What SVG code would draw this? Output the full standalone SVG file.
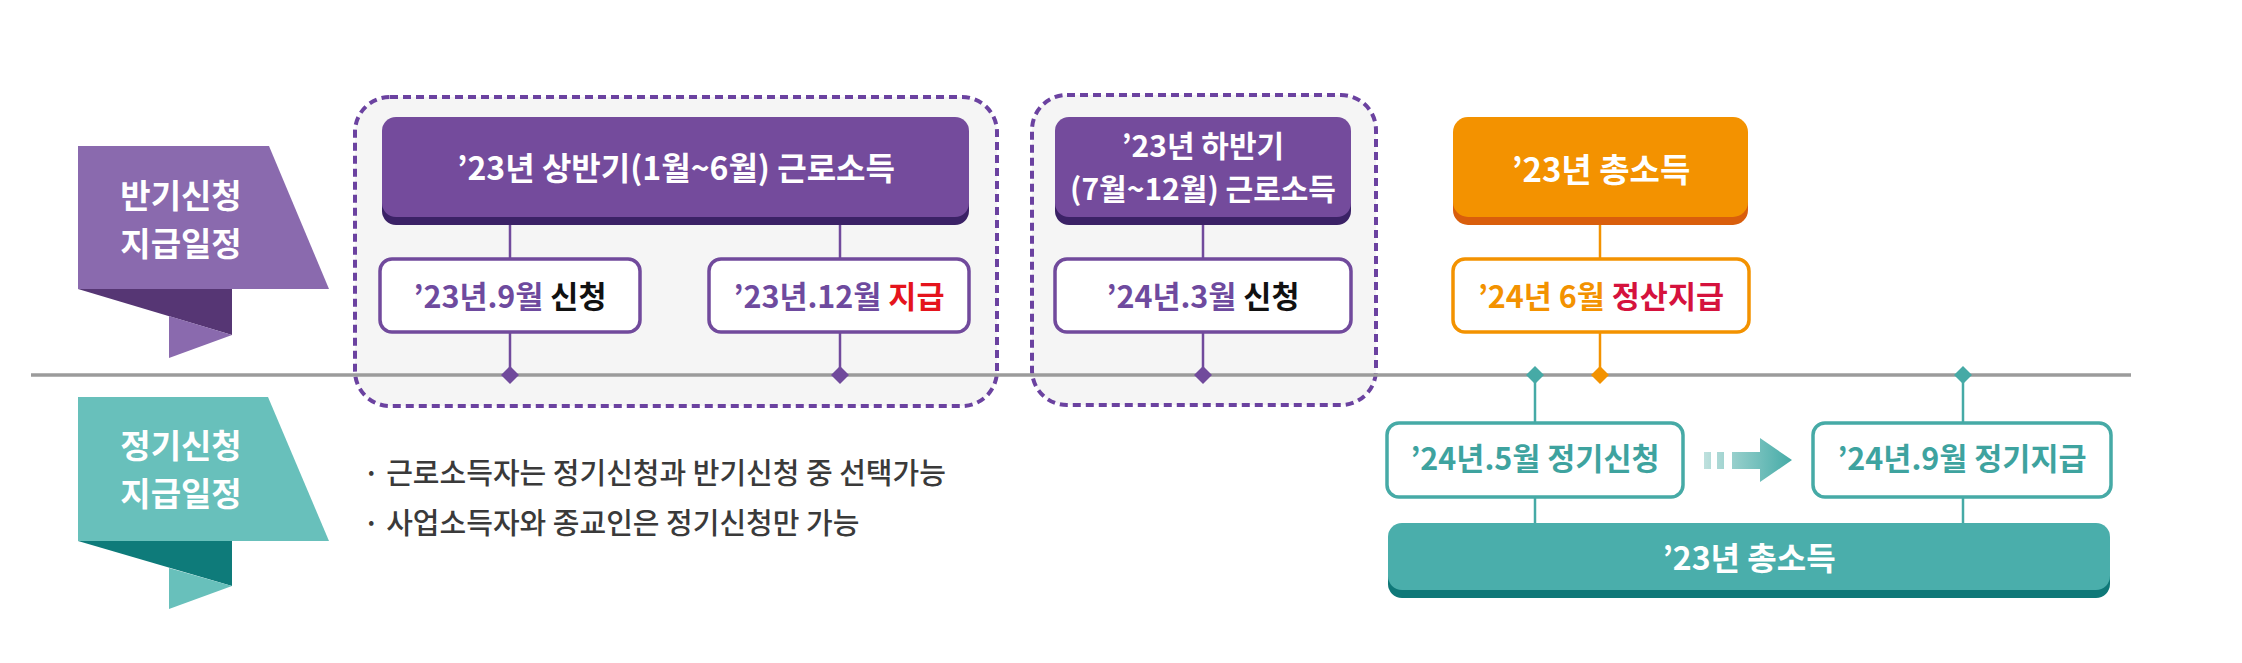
<svg xmlns="http://www.w3.org/2000/svg" width="2242" height="663" viewBox="0 0 2242 663">
<defs>
<linearGradient id="arrowGrad" x1="1700" y1="0" x2="1792" y2="0" gradientUnits="userSpaceOnUse">
<stop offset="0" stop-color="#c4e3e0"/>
<stop offset="1" stop-color="#45aba7"/>
</linearGradient>
<style>
text{font-family:"Noto Sans CJK KR","Noto Sans",sans-serif;}
.group{fill:#f5f5f5;stroke:#6b42a0;stroke-width:4;stroke-dasharray:8 5;}
.pHead{fill:#744b9c;}
.pShadow{fill:#3b2266;}
.oHead{fill:#f39200;}
.oShadow{fill:#d95e0c;}
.tHead{fill:#4aaeab;}
.tShadow{fill:#0f7878;}
.pBox{fill:#ffffff;stroke:#714a9c;stroke-width:3.5;}
.oBox{fill:#ffffff;stroke:#f39200;stroke-width:3.5;}
.tBox{fill:#ffffff;stroke:#46aaa6;stroke-width:3.5;}
.hText{fill:#ffffff;font-size:32px;font-weight:700;text-anchor:middle;}
.bText{font-size:30.5px;font-weight:700;text-anchor:middle;}
.rText{fill:#ffffff;font-size:33px;font-weight:700;text-anchor:middle;}
.note{fill:#3a3a3a;font-size:29px;font-weight:500;}
.pLine{stroke:#714a9c;stroke-width:2.5;fill:none;}
.oLine{stroke:#f39200;stroke-width:2.5;fill:none;}
.tLine{stroke:#46aaa6;stroke-width:2.5;fill:none;}
</style>
</defs>
<rect width="2242" height="663" fill="#ffffff"/>

<g id="ribbon-half">
<polygon points="78,146 269,146 329,289 78,289" fill="#8a6aae"/>
<polygon points="78,289 232,289 232,335" fill="#563674"/>
<polygon points="169,316 232,335 169,358" fill="#8a6aae"/>
<text class="rText" x="181" y="208">반기신청</text>
<text class="rText" x="181" y="256">지급일정</text>
</g>
<g id="ribbon-regular">
<polygon points="78,397 268,397 329,541 78,541" fill="#68c0bb"/>
<polygon points="78,541 232,541 232,586" fill="#0e7b7a"/>
<polygon points="169,568 232,586 169,609" fill="#68c0bb"/>
<text class="rText" x="181" y="458">정기신청</text>
<text class="rText" x="181" y="506">지급일정</text>
</g>

<g id="group-first-half">
<rect class="group" x="355" y="97" width="642" height="309" rx="35"/>
</g>
<g id="group-second-half">
<rect class="group" x="1032" y="95" width="344" height="310" rx="35"/>
</g>

<g id="connectors">
<line x1="31" y1="375" x2="2131" y2="375" stroke="#9b9b9b" stroke-width="3.5"/>
<line class="pLine" x1="510" y1="220" x2="510" y2="375"/>
<line class="pLine" x1="840" y1="220" x2="840" y2="375"/>
<line class="pLine" x1="1203" y1="220" x2="1203" y2="375"/>
<line class="oLine" x1="1600" y1="220" x2="1600" y2="375"/>
<line class="tLine" x1="1535" y1="375" x2="1535" y2="525"/>
<line class="tLine" x1="1963" y1="375" x2="1963" y2="525"/>
<polygon points="510,366 519,375 510,384 501,375" fill="#714a9c"/>
<polygon points="840,366 849,375 840,384 831,375" fill="#714a9c"/>
<polygon points="1203,366 1212,375 1203,384 1194,375" fill="#714a9c"/>
<polygon points="1600,366 1609,375 1600,384 1591,375" fill="#f39200"/>
<polygon points="1535,366 1544,375 1535,384 1526,375" fill="#46aaa6"/>
<polygon points="1963,366 1972,375 1963,384 1954,375" fill="#46aaa6"/>
<g id="arrow" fill="url(#arrowGrad)">
<rect x="1704" y="452" width="7" height="17"/>
<rect x="1717" y="452" width="7" height="17"/>
<polygon points="1732,452 1760,452 1760,438 1792,460 1760,482 1760,469 1732,469"/>
</g>
</g>

<g id="head-first-half">
<rect class="pShadow" x="382" y="125" width="587" height="100" rx="14"/>
<rect class="pHead" x="382" y="117" width="587" height="100" rx="14"/>
<text class="hText" x="676" y="180">’23년 상반기(1월~6월) 근로소득</text>
</g>
<g id="box-2309">
<rect class="pBox" x="380" y="259" width="260" height="73" rx="12"/>
<text class="bText" x="510" y="308"><tspan fill="#6e4a9e">’23년.9월 </tspan><tspan fill="#111111">신청</tspan></text>
</g>
<g id="box-2312">
<rect class="pBox" x="709" y="259" width="260" height="73" rx="12"/>
<text class="bText" x="839" y="308"><tspan fill="#6e4a9e">’23년.12월 </tspan><tspan fill="#e5141c">지급</tspan></text>
</g>

<g id="head-second-half">
<rect class="pShadow" x="1055" y="125" width="296" height="100" rx="14"/>
<rect class="pHead" x="1055" y="117" width="296" height="100" rx="14"/>
<text class="hText" x="1203" y="157" style="font-size:30px">’23년 하반기</text>
<text class="hText" x="1203" y="200" style="font-size:30px">(7월~12월) 근로소득</text>
</g>
<g id="box-2403">
<rect class="pBox" x="1055" y="259" width="296" height="73" rx="12"/>
<text class="bText" x="1203" y="308"><tspan fill="#6e4a9e">’24년.3월 </tspan><tspan fill="#111111">신청</tspan></text>
</g>

<g id="head-total-orange">
<rect class="oShadow" x="1453" y="125" width="295" height="100" rx="15"/>
<rect class="oHead" x="1453" y="117" width="295" height="100" rx="15"/>
<text class="hText" x="1601" y="182" style="font-size:33px">’23년 총소득</text>
</g>
<g id="box-2406">
<rect class="oBox" x="1453" y="259" width="296" height="73" rx="12"/>
<text class="bText" x="1601" y="308"><tspan fill="#f39200">’24년 6월 </tspan><tspan fill="#d5123d">정산지급</tspan></text>
</g>

<g id="box-2405">
<rect class="tBox" x="1387" y="423" width="296" height="74" rx="12"/>
<text class="bText" x="1535" y="470" fill="#3ea39f">’24년.5월 정기신청</text>
</g>
<g id="box-2409">
<rect class="tBox" x="1813" y="423" width="298" height="74" rx="12"/>
<text class="bText" x="1962" y="470" fill="#3ea39f">’24년.9월 정기지급</text>
</g>
<g id="bar-total-teal">
<rect class="tShadow" x="1388" y="531" width="722" height="67" rx="14"/>
<rect class="tHead" x="1388" y="523" width="722" height="67" rx="14"/>
<text class="hText" x="1749" y="570">’23년 총소득</text>
</g>

<g id="notes">
<text class="note" x="363" y="484">· 근로소득자는 정기신청과 반기신청 중 선택가능</text>
<text class="note" x="363" y="534">· 사업소득자와 종교인은 정기신청만 가능</text>
</g>
</svg>
